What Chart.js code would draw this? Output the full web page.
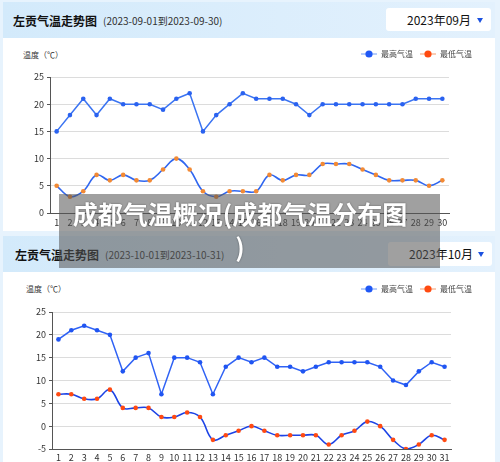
<!DOCTYPE html>
<html><head><meta charset="utf-8">
<script src="https://cdn.jsdelivr.net/npm/chart.js@4.4.0/dist/chart.umd.min.js"></script>
<style>
html,body{margin:0;padding:0;}
body{width:500px;height:462px;position:relative;overflow:hidden;background:#e7f3fd;font-family:"Noto Sans CJK SC","Noto Sans",sans-serif;}
.body{position:absolute;left:3px;width:492px;background:#fff;}
.hdr{position:absolute;left:3px;width:492px;background:linear-gradient(to right,#d3eafb,#e3f1fd);}
.title{position:absolute;font-weight:bold;font-size:12px;color:#111;line-height:16px;}
.sub{position:absolute;font-size:10px;color:#333;line-height:14px;}
.dd{position:absolute;background:#fff;border-radius:3px;font-size:12px;color:#111;line-height:16px;}
.dd span{position:absolute;left:21px;top:4px;}
.tri{position:absolute;width:0;height:0;border-left:3.5px solid transparent;border-right:3.5px solid transparent;border-top:5px solid #1c52e0;}
.ylab{position:absolute;font-size:8px;color:#333;line-height:10px;}
canvas{position:absolute;left:0;}
.overlay{position:absolute;left:59px;top:194px;width:362px;height:71px;padding:3px 19px 0 0;background:rgba(85,85,85,0.56);color:#fff;font-weight:bold;font-size:25px;line-height:33px;text-align:center;text-shadow:0 0 2px rgba(0,0,0,0.45);z-index:10;}
</style></head>
<body>
<div class="hdr" style="top:2px;height:36px;"></div>
<div class="body" style="top:38px;height:193px;"></div>
<div class="title" style="left:13px;top:13px;">左贡气温走势图</div>
<div class="sub" style="left:103px;top:14px;">(2023-09-01到2023-09-30)</div>
<div class="dd" style="left:386px;top:8px;width:105px;height:23px;"><span>2023年09月</span><div class="tri" style="left:91px;top:10px;"></div></div>
<div class="ylab" style="left:23px;top:50px;">温度（℃）</div>
<canvas id="c1" width="495" height="192" style="top:38px;"></canvas>

<div class="hdr" style="top:236px;height:36px;"></div>
<div class="body" style="top:272px;height:190px;"></div>
<div class="title" style="left:15px;top:247px;">左贡气温走势图</div>
<div class="sub" style="left:105px;top:248px;">(2023-10-01到2023-10-31)</div>
<div class="dd" style="left:388px;top:242px;width:104px;height:24px;"><span>2023年10月</span><div class="tri" style="left:90px;top:10px;"></div></div>
<div class="ylab" style="left:26px;top:284px;">温度（℃）</div>
<canvas id="c2" width="495" height="190" style="top:272px;"></canvas>

<div class="overlay">成都气温概况(成都气温分布图<br>)</div>

<script>
const legendNames = ['最高气温', '最低气温'];

const sepLabels = ['1','2','3','4','5','6','7','8','9','10','11','12','13','14','15','16','17','18','19','20','21','22','23','24','25','26','27','28','29','30'];
const sepHigh = [15,18,21,18,21,20,20,20,19,21,22,15,18,20,22,21,21,21,20,18,20,20,20,20,20,20,20,21,21,21];
const sepLow  = [5,3,4,7,6,7,6,6,8,10,8,4,3,4,4,4,7,6,7,7,9,9,9,8,7,6,6,6,5,6];
const sepYTicks = [0, 25, 5];

const octLabels = ['1','2','3','4','5','6','7','8','9','10','11','12','13','14','15','16','17','18','19','20','21','22','23','24','25','26','27','28','29','30','31'];
const octHigh = [19,21,22,21,20,12,15,16,7,15,15,14,7,13,15,14,15,13,13,12,13,14,14,14,14,13,10,9,12,14,13];
const octLow  = [7,7,6,6,8,4,4,4,2,2,3,2,-3,-2,-1,0,-1,-2,-2,-2,-2,-4,-2,-1,1,0,-3,-5,-4,-2,-3];
const octYTicks = [-5, 25, 5];

const FONT = '"Noto Sans CJK SC","Noto Sans",sans-serif';

function markerImg(lineColor, dotColor) {
  const c = document.createElement('canvas');
  c.width = 16; c.height = 8;
  const g = c.getContext('2d');
  g.strokeStyle = lineColor; g.lineWidth = 1;
  g.beginPath(); g.moveTo(0, 4); g.lineTo(16, 4); g.stroke();
  g.fillStyle = dotColor;
  g.beginPath(); g.arc(8, 4, 3.6, 0, Math.PI * 2); g.fill();
  return c;
}

function makeChart(id, labels, high, low, yT, st) {
  const markers = [markerImg(st.legHighLine, st.legHighDot), markerImg(st.legLowLine, st.legLowDot)];
  return new Chart(document.getElementById(id), {
    type: 'line',
    data: {
      labels: labels,
      datasets: [
        { label: legendNames[0], data: high, borderColor: st.highLine, backgroundColor: st.highDot,
          pointBackgroundColor: st.highDot, pointBorderWidth: 0, pointRadius: 2.3, borderWidth: 1.5, tension: 0, fill: false },
        { label: legendNames[1], data: low, borderColor: st.lowLine, backgroundColor: st.lowDot,
          pointBackgroundColor: st.lowDot, pointBorderWidth: 0, pointRadius: 2.3, borderWidth: 1.6, tension: 0.4, fill: false }
      ]
    },
    options: {
      responsive: false, animation: false, devicePixelRatio: 1,
      layout: { padding: { top: st.padTop, right: 16, left: 0, bottom: 0 } },
      plugins: {
        tooltip: { enabled: false },
        legend: {
          position: 'top', align: 'end', weight: 3000,
          labels: {
            usePointStyle: true, pointStyleWidth: 16, padding: 7, color: '#444',
            font: { size: 8, family: FONT },
            generateLabels: (chart) => Chart.defaults.plugins.legend.labels.generateLabels(chart).map((it, i) => Object.assign(it, { pointStyle: markers[i] }))
          }
        },
        title: { display: true, text: '', padding: 0, font: { size: 9, lineHeight: 1 } }
      },
      scales: {
        x: {
          type: 'category', offset: true,
          grid: { display: false, drawTicks: false },
          border: { display: true, color: '#555', width: 1 },
          ticks: { autoSkip: false, maxRotation: 0, padding: st.xPad, color: '#333', font: { size: 9, family: FONT } },
          afterFit: (s) => { s.height = st.xH; }
        },
        y: {
          min: yT[0], max: yT[1],
          ticks: { stepSize: yT[2], padding: 3, color: '#333', font: { size: 9, family: FONT } },
          grid: { color: '#dcdcdc', tickLength: 3, tickColor: '#555' },
          border: { color: '#555' },
          afterFit: (s) => { s.width = st.yW; }
        },
        y2: {
          type: 'linear', position: 'right', display: true,
          grid: { display: false }, ticks: { display: false }, border: { display: false },
          afterFit: (s) => { s.width = st.y2W; }
        }
      }
    }
  });
}

makeChart('c1', sepLabels, sepHigh, sepLow, sepYTicks, {
  highLine: '#3b74f2', highDot: '#2a62f0', lowLine: '#2f66f0', lowDot: '#f28a35',
  legHighLine: '#6f9af5', legHighDot: '#2058f5', legLowLine: '#f59a6a', legLowDot: '#ff4a10',
  padTop: 5, xPad: 4, xH: 17, yW: 50, y2W: 30
});
makeChart('c2', octLabels, octHigh, octLow, octYTicks, {
  highLine: '#2f62f5', highDot: '#2055f2', lowLine: '#1c43e6', lowDot: '#ff4a12',
  legHighLine: '#6f9af5', legHighDot: '#2058f5', legLowLine: '#f59a6a', legLowDot: '#ff4a10',
  padTop: 6, xPad: 3, xH: 13, yW: 52, y2W: 28
});
</script>
</body></html>
